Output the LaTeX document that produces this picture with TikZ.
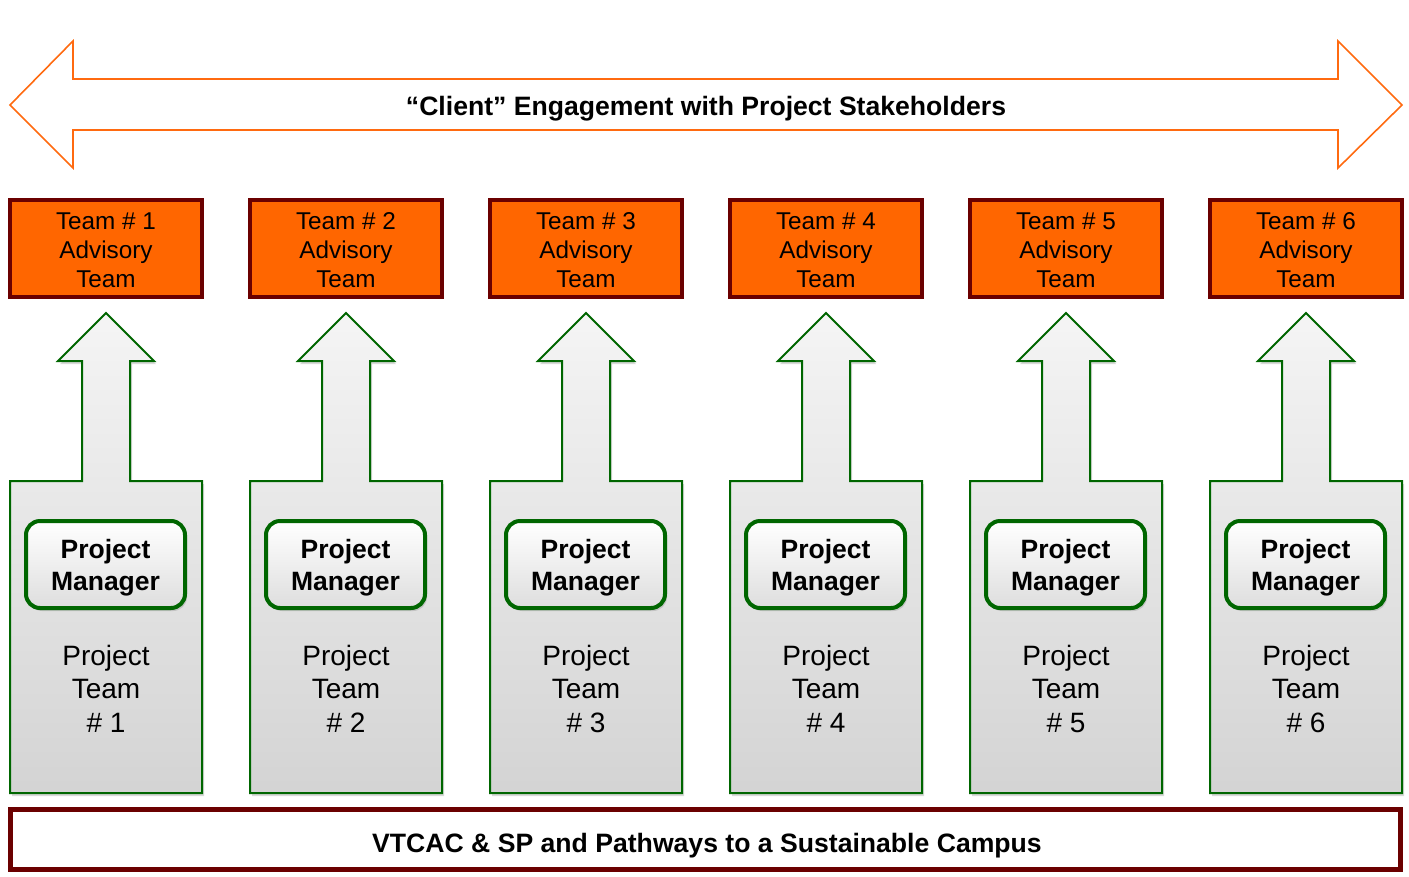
\documentclass[tikz,border=0pt]{standalone}
\usepackage{fontspec}
\setmainfont{Liberation Sans}
\usetikzlibrary{shadows}
\definecolor{arroworange}{HTML}{FF6A10}
\definecolor{teamfill}{HTML}{FF6600}
\definecolor{darkred}{HTML}{6B0000}
\definecolor{dgreen}{HTML}{006600}
\begin{document}
\begin{tikzpicture}[x=1pt,y=-1pt,
  teambox/.style={draw=darkred, line width=4.5pt, fill=teamfill, minimum width=192pt, minimum height=97pt, inner sep=0pt},
  teamtext/.style={align=center, font=\fontsize{24.3}{29}\selectfont},
  column/.style={draw=dgreen, line width=2pt, line join=miter, top color=black!4, bottom color=black!17,
     drop shadow={opacity=0.3, shadow xshift=2pt, shadow yshift=-3pt}},
  pmbox/.style={draw=dgreen, line width=4pt, rounded corners=14pt, top color=white, bottom color=black!13,
     minimum width=159pt, minimum height=87pt, inner sep=0pt,
     drop shadow={opacity=0.3, shadow xshift=2pt, shadow yshift=-3pt}},
  pmtext/.style={align=center, font=\bfseries\fontsize{26.5}{32}\selectfont},
  ptext/.style={align=center, font=\fontsize{28}{33.5}\selectfont},
  bigarrow/.style={draw=arroworange, line width=1.6pt, line join=miter},
  bigtext/.style={font=\bfseries\fontsize{26.6}{30}\selectfont}
]
\useasboundingbox (0,0) rectangle (1409,876);
% top double arrow
\draw[bigarrow] (10,105) -- (73,41) -- (73,79) -- (1338,79) -- (1338,41) -- (1402,105)
  -- (1338,168) -- (1338,130) -- (73,130) -- (73,168) -- cycle;
\node[bigtext] (title) at (706,109) {“Client” Engagement with Project Stakeholders};
% columns
\foreach \i in {1,...,6}{
  \pgfmathsetmacro{\xo}{(\i-1)*240}
  \node[teambox] (team\i) at (106+\xo,248.5) {};
  \node[teamtext] (teamlbl\i) at (106+\xo,250) {Team \# \i\\Advisory\\Team};
  \draw[column] (10+\xo,481) -- (82+\xo,481) -- (82+\xo,361) -- (58+\xo,361) -- (106+\xo,313)
     -- (154+\xo,361) -- (130+\xo,361) -- (130+\xo,481) -- (202+\xo,481) -- (202+\xo,793)
     -- (10+\xo,793) -- cycle;
  \node[pmbox] (pm\i) at (105.5+\xo,564.5) {};
  \node[pmtext] (pmlbl\i) at (105.5+\xo,568) {Project\\Manager};
  \node[ptext] (pt\i) at (106+\xo,688.5) {Project\\Team\\\# \i};
}
% bottom box
\node[draw=darkred, line width=4.7pt, minimum width=1390pt, minimum height=60pt, inner sep=0pt] (base) at (705.5,839.5) {};
\node[bigtext] (baselbl) at (707,846) {VTCAC \& SP and Pathways to a Sustainable Campus};
\end{tikzpicture}
\end{document}
